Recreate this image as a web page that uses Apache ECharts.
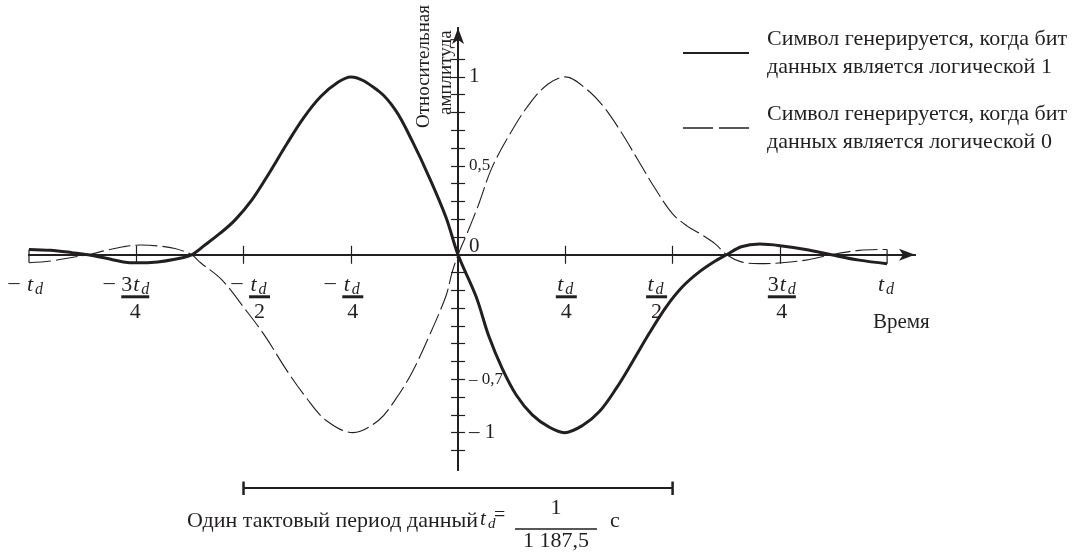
<!DOCTYPE html>
<html>
<head>
<meta charset="utf-8">
<script src="https://cdn.jsdelivr.net/npm/echarts@6/dist/echarts.min.js"></script>
<style>
html,body{margin:0;padding:0;background:#fff}
#chart{width:1090px;height:552px}
</style>
</head>
<body>
<div id="chart"></div>
<script>
// время в долях t_d, амплитуда относительная
var solidT = [-1, -0.95, -0.9, -0.862, -0.82, -0.78, -0.75, -0.7, -0.66, -0.621, -0.59, -0.555, -0.52, -0.48, -0.44, -0.4, -0.36, -0.32, -0.28, -0.25, -0.185, -0.145, -0.107, -0.068, -0.028, 0, 0.042, 0.072, 0.103, 0.136, 0.173, 0.213, 0.248, 0.29, 0.33, 0.369, 0.407, 0.446, 0.486, 0.523, 0.563, 0.603, 0.626, 0.66, 0.703, 0.755, 0.81, 0.87, 0.935, 1];
var solidV = [0.03, 0.025, 0.012, 0, -0.02, -0.04, -0.045, -0.04, -0.025, 0, 0.055, 0.12, 0.195, 0.31, 0.46, 0.62, 0.77, 0.89, 0.97, 1.0, 0.92, 0.81, 0.64, 0.44, 0.21, 0, -0.235, -0.46, -0.64, -0.79, -0.90, -0.97, -1.0, -0.96, -0.88, -0.75, -0.60, -0.44, -0.29, -0.18, -0.095, -0.03, 0, 0.045, 0.06, 0.05, 0.03, 0, -0.03, -0.05];

var dashT = [-1, -0.95, -0.9, -0.862, -0.82, -0.78, -0.74, -0.7, -0.66, -0.621, -0.6, -0.551, -0.495, -0.449, -0.402, -0.355, -0.308, -0.245, -0.185, -0.145, -0.107, -0.068, -0.028, -0.014, 0, 0.021, 0.049, 0.079, 0.126, 0.17, 0.21, 0.25, 0.3, 0.34, 0.38, 0.42, 0.46, 0.5, 0.535, 0.563, 0.6, 0.626, 0.66, 0.703, 0.755, 0.81, 0.87, 0.935, 1];
var dashV = [-0.045, -0.035, -0.015, 0, 0.025, 0.045, 0.055, 0.05, 0.035, 0, -0.045, -0.14, -0.31, -0.46, -0.64, -0.80, -0.93, -1.0, -0.93, -0.81, -0.66, -0.46, -0.23, -0.10, 0, 0.12, 0.29, 0.49, 0.70, 0.86, 0.96, 1.0, 0.93, 0.83, 0.69, 0.53, 0.37, 0.23, 0.16, 0.12, 0.06, 0, -0.04, -0.05, -0.045, -0.03, 0, 0.025, 0.03];

var xTickValues = [-0.75, -0.5, -0.25, 0.25, 0.5, 0.75];
var yTickValues = [-1.1, -1, -0.9, -0.8, -0.7, -0.6, -0.5, -0.4, -0.3, -0.2, -0.1, 0.1, 0.2, 0.3, 0.4, 0.5, 0.6, 0.7, 0.8, 0.9, 1, 1.1];
var yLabelValues = [1, 0.5, 0, -0.7, -1];
var yLabelTexts = ['1', '0,5', '0', '– 0,7', '– 1'];

// подписи оси времени: знак, коэффициент, знаменатель
var xLabelValues = [-1, -0.75, -0.5, -0.25, 0.25, 0.5, 0.75, 1];
var xLabelSign = ['–', '–', '–', '–', '', '', '', ''];
var xLabelCoef = ['', '3', '', '', '', '', '3', ''];
var xLabelDen = ['', '4', '2', '4', '4', '2', '4', ''];
var xLabelDx = [7, -1, 16, 2, 1, -16, 2, 0];

var legendLines = ['Символ генерируется, когда бит\nданных является логической 1',
                   'Символ генерируется, когда бит\nданных является логической 0'];
var seriesNames = ['Логическая 1', 'Логическая 0'];
var periodStart = -0.5, periodEnd = 0.5;

var ink = '#231f20';
var serif = 'Liberation Serif';

function pairs(t, v) {
    var out = [];
    for (var i = 0; i < t.length; i++) out.push([t[i], v[i]]);
    return out;
}

var myChart = echarts.init(document.getElementById('chart'));

var option = {
    animation: false,
    grid: {left: 29, right: 175, top: 28, bottom: 82},
    legend: {
        orient: 'vertical',
        left: 682,
        top: 25,
        padding: 0,
        itemWidth: 66,
        itemHeight: 12,
        itemGap: 19,
        selectedMode: false,
        itemStyle: {color: 'rgba(0,0,0,0)', borderWidth: 0, opacity: 0},
        textStyle: {fontFamily: serif, fontSize: 22, color: ink, lineHeight: 28, padding: [0, 0, 0, 13]},
        formatter: function (name) {
            return legendLines[seriesNames.indexOf(name)];
        },
        data: [
            {name: seriesNames[0]},
            {name: seriesNames[1], lineStyle: {type: [30, 6], width: 1.5}}
        ]
    },
    xAxis: [
        {
            type: 'value', min: -1, max: 1.065, position: 'bottom',
            axisLine: {onZero: true, onZeroAxisIndex: 0, symbol: ['none', 'arrow'], symbolSize: [9, 16],
                lineStyle: {color: ink, width: 2}},
            axisTick: {customValues: xTickValues, length: 9, lineStyle: {color: ink, width: 1.2}},
            axisLabel: {show: false},
            splitLine: {show: false}
        },
        {
            type: 'value', min: -1, max: 1.065, position: 'top',
            axisLine: {onZero: true, onZeroAxisIndex: 0, lineStyle: {color: ink, width: 2}},
            axisTick: {customValues: xTickValues, length: 9, lineStyle: {color: ink, width: 1.2}},
            axisLabel: {show: false},
            splitLine: {show: false}
        }
    ],
    yAxis: [
        {
            type: 'value', min: -1.21, max: 1.275, position: 'left',
            axisLine: {onZero: true, onZeroAxisIndex: 0, symbol: ['none', 'arrow'], symbolSize: [9, 16],
                lineStyle: {color: ink, width: 2}},
            axisTick: {customValues: yTickValues, length: 7, lineStyle: {color: ink, width: 1.2}},
            axisLabel: {show: false},
            splitLine: {show: false}
        },
        {
            type: 'value', min: -1.21, max: 1.275, position: 'right',
            axisLine: {onZero: true, onZeroAxisIndex: 0, lineStyle: {color: ink, width: 2}},
            axisTick: {customValues: yTickValues, length: 7, lineStyle: {color: ink, width: 1.2}},
            axisLabel: {show: false},
            splitLine: {show: false}
        }
    ],
    series: [
        {
            name: seriesNames[0], type: 'line', xAxisIndex: 0, yAxisIndex: 0,
            data: pairs(solidT, solidV), symbol: 'none', smooth: 0.35, z: 4,
            itemStyle: {color: ink},
            lineStyle: {color: ink, width: 3}
        },
        {
            name: seriesNames[1], type: 'line', xAxisIndex: 0, yAxisIndex: 0,
            data: pairs(dashT, dashV), symbol: 'none', smooth: 0.35, z: 3,
            itemStyle: {color: ink},
            lineStyle: {color: ink, width: 1.1, type: [22, 5]}
        },
        // концевые засечки, соединяющие начала и концы кривых
        {
            type: 'line', xAxisIndex: 0, yAxisIndex: 0, silent: true, symbol: 'none',
            data: [[solidT[0], solidV[0]], [dashT[0], dashV[0]]],
            lineStyle: {color: ink, width: 1.2}
        },
        {
            type: 'line', xAxisIndex: 0, yAxisIndex: 0, silent: true, symbol: 'none',
            data: [[solidT[solidT.length - 1], solidV[solidV.length - 1]], [dashT[dashT.length - 1], dashV[dashV.length - 1]]],
            lineStyle: {color: ink, width: 1.2}
        }
    ]
};

myChart.setOption(option);

function txt(x, y, s, size, extra) {
    var st = {text: s, x: 0, y: 0, fontFamily: serif, fontSize: size, fill: ink, align: 'center', verticalAlign: 'middle'};
    var el = {type: 'text', x: x, y: y, silent: true, style: st};
    if (extra) {
        for (var k in extra) {
            if (k === 'rotation') el.rotation = extra[k];
            else st[k] = extra[k];
        }
    }
    return el;
}
function seg(x1, y1, x2, y2, w) {
    return {type: 'line', silent: true, shape: {x1: x1, y1: y1, x2: x2, y2: y2}, style: {stroke: ink, lineWidth: w}};
}
// курсивное t с индексом d, x0 - левый край буквы t
function td(x0, y, big, small) {
    return [
        txt(x0, y, 't', big, {fontStyle: 'italic', align: 'left'}),
        txt(x0 + Math.round(big * 0.38), y + 5, 'd', small, {fontStyle: 'italic', align: 'left'})
    ];
}

var g = [];
var x0px = myChart.convertToPixel({xAxisIndex: 0}, 0);
var y0 = myChart.convertToPixel({yAxisIndex: 0}, 0);
var numY = y0 + 30, barY = y0 + 42, denY = y0 + 57;

// подписи оси амплитуды справа от оси
for (var j = 0; j < yLabelValues.length; j++) {
    var py = myChart.convertToPixel({yAxisIndex: 0}, yLabelValues[j]);
    var big = (yLabelValues[j] === 1 || yLabelValues[j] === -1 || yLabelValues[j] === 0);
    if (yLabelValues[j] === 0) py -= 8;
    g.push(txt(x0px + 11, py, yLabelTexts[j], big ? 21 : 17, {align: 'left'}));
}

for (var i = 0; i < xLabelValues.length; i++) {
    var px = myChart.convertToPixel({xAxisIndex: 0}, xLabelValues[i]);
    var cx = px + xLabelDx[i];
    if (!xLabelDen[i]) {
        g = g.concat(td(cx - 9, numY, 22, 16));
        if (xLabelSign[i]) g.push(txt(cx - 22, numY - 2, xLabelSign[i], 22));
        continue;
    }
    var half = xLabelCoef[i] ? 14 : 10.5;
    if (xLabelCoef[i]) {
        g.push(txt(cx - 3, numY, xLabelCoef[i], 22, {align: 'right'}));
        g = g.concat(td(cx - 2, numY, 22, 16));
    } else {
        g = g.concat(td(cx - 9, numY, 22, 16));
    }
    g.push({type: 'rect', silent: true, shape: {x: cx - half, y: barY - 1.5, width: half * 2, height: 3}, style: {fill: ink}});
    g.push(txt(cx, denY, xLabelDen[i], 22));
    if (xLabelSign[i]) g.push(txt(cx - half - 12, numY - 2, xLabelSign[i], 22));
}

g.push(txt(873, 322, 'Время', 21, {align: 'left'}));

// подпись оси амплитуды
g.push(txt(424, 128, 'Относительная', 19, {align: 'left', rotation: Math.PI / 2}));
g.push(txt(446, 115, 'амплитуда', 19, {align: 'left', rotation: Math.PI / 2}));

// один тактовый период
var pA = myChart.convertToPixel({xAxisIndex: 0}, periodStart);
var pB = myChart.convertToPixel({xAxisIndex: 0}, periodEnd);
g.push(seg(pA, 488, pB, 488, 2));
g.push(seg(pA, 481.5, pA, 495, 2.5));
g.push(seg(pB, 481.5, pB, 495, 2.5));

g.push(txt(478, 521, 'Один тактовый период данный', 22, {align: 'right'}));
g = g.concat(td(480, 519, 21, 15));
g.push(txt(494, 516, '=', 20, {align: 'left'}));
g.push(txt(556, 508, '1', 22));
g.push(seg(515, 529, 597, 529, 1.5));
g.push(txt(556, 541, '1 187,5', 22));
g.push(txt(610, 521, 'с', 22, {align: 'left'}));

myChart.setOption({graphic: g});
</script>
</body>
</html>
